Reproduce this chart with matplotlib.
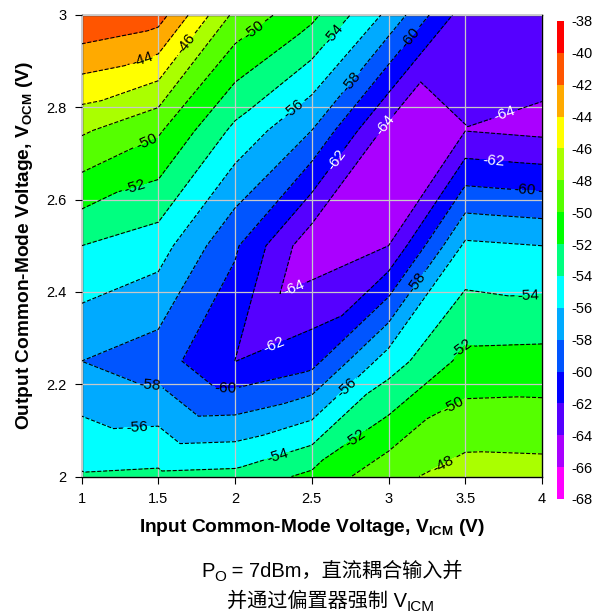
import numpy as np
import matplotlib
matplotlib.use('Agg')
import matplotlib.pyplot as plt
import matplotlib.tri as mtri
from matplotlib.colors import ListedColormap, BoundaryNorm

plt.rcParams['font.family'] = ['Liberation Sans', 'Noto Sans CJK SC']
plt.rcParams['mathtext.fontset'] = 'custom'
plt.rcParams['mathtext.rm'] = 'Liberation Sans'
plt.rcParams['mathtext.bf'] = 'Liberation Sans:bold'
plt.rcParams['axes.unicode_minus'] = False

# ---- data (grid nodes) ----
x_vals = [1.0, 1.5, 2.0, 2.5, 3.0, 3.5, 4.0]
y_vals = [2.0, 2.25, 2.5, 2.75, 3.0]
row_y200 = [-53.8, -53.6, -53.4, -51.5, -48.6, -47.1, -47.2]
row_y225 = [-58.0, -59.1, -62.02, -60.7, -55.0, -51.4, -51.3]
row_y250 = [-54.0, -55.1, -59.7, -65.4, -64.0, -55.6, -56.0]
row_y275 = [-47.7, -49.7, -54.5, -58.0, -64.65, -64.05, -64.5]
row_y300 = [-40.1, -41.1, -48.5, -51.5, -56.5, -63.1, -62.5]

levels = list(range(-68, -37, 2))
band_colors = ['#FF00FF', '#AA00FF', '#5500FF', '#0000FF', '#0055FF', '#00AAFF',
               '#00FFFF', '#00FF80', '#00FF00', '#55FF00', '#AAFF00', '#FFFF00',
               '#FFAA00', '#FF5500', '#FF0000']

x_ticks = [1, 1.5, 2, 2.5, 3, 3.5, 4]
y_ticks = [2, 2.2, 2.4, 2.6, 2.8, 3]

# contour label placements (x, y)
label_spots = [
    (1.392, 2.910), (1.674, 2.939), (2.141, 2.960), (2.641, 2.960),
    (3.151, 2.949), (2.760, 2.855), (2.369, 2.801), (2.966, 2.765),
    (3.759, 2.783), (2.651, 2.689), (3.683, 2.686), (3.889, 2.621),
    (1.446, 2.711), (1.360, 2.617), (2.380, 2.411), (2.250, 2.289),
    (3.184, 2.419), (3.911, 2.400), (3.466, 2.281), (1.446, 2.202),
    (1.935, 2.195), (2.738, 2.187), (3.400, 2.169), (1.360, 2.108),
    (2.782, 2.083), (2.270, 2.050), (3.335, 2.039),
]

# ---- build triangulation (diagonals lower-left -> upper-right) ----
nx, ny = len(x_vals), len(y_vals)
X, Y = np.meshgrid(x_vals, y_vals)
Z = np.array([row_y200, row_y225, row_y250, row_y275, row_y300])
tris = []
for j in range(ny - 1):
    for i in range(nx - 1):
        ll = j * nx + i
        lr = ll + 1
        ul = ll + nx
        ur = ul + 1
        tris.append([ll, lr, ur])
        tris.append([ll, ur, ul])
triang = mtri.Triangulation(X.ravel(), Y.ravel(), np.array(tris))

cmap = ListedColormap(band_colors)
norm = BoundaryNorm(levels, cmap.N)

W, H = 603, 615
fig = plt.figure(figsize=(W / 100, H / 100), dpi=100)
ax = fig.add_axes([81.5 / W, (H - 476.5) / H, 460.5 / W, 461.5 / H])

cf = ax.tricontourf(triang, Z.ravel(), levels=levels, cmap=cmap, norm=norm)
ax.set_xlim(1, 4)
ax.set_ylim(2, 3)
ax.set_xticks(x_ticks)
ax.set_yticks(y_ticks)
ax.set_xticklabels(['%g' % v for v in x_ticks])
ax.set_yticklabels(['%g' % v for v in y_ticks])
ax.grid(True, color='#C8C8C8', linewidth=0.9, zorder=2)
ax.set_axisbelow(False)

cs = ax.tricontour(triang, Z.ravel(), levels=levels, colors='k', linewidths=0.8, zorder=3)
texts = ax.clabel(cs, manual=label_spots, inline=True, inline_spacing=3,
                  fontsize=11, colors='k', fmt='%d')
for t in texts:
    if t.get_text() in ('-62', '-64', '-66'):
        t.set_color('white')

ax.tick_params(direction='out', length=5, width=0.8, labelsize=10.5, pad=6)
for sp in ax.spines.values():
    sp.set_linewidth(1.0)

ax.set_xlabel('Input Common-Mode Voltage, V$_{\\mathbf{ICM}}$ (V)', fontsize=13.8,
              fontweight='bold', labelpad=8)
ax.set_ylabel('Output Common-Mode Voltage, V$_{\\mathbf{OCM}}$ (V)', fontsize=13.8,
              fontweight='bold', labelpad=8)

# colorbar
cax = fig.add_axes([557 / W, (H - 499) / H, 7 / W, 478 / H])
cb = fig.colorbar(cf, cax=cax, ticks=levels)
cb.outline.set_visible(False)
cb.ax.tick_params(length=0, labelsize=10.5, pad=5)
cb.ax.set_yticklabels(['%d' % v for v in levels])


# caption lines composed of pieces (text, fontsize, baseline drop in px)
def rich_line(center_px, baseline_px, pieces):
    renderer = fig.canvas.get_renderer()
    objs = []
    total = 0.0
    for txt, fs, drop in pieces:
        t = fig.text(0, 0, txt, fontsize=fs, ha='left', va='baseline')
        w = t.get_window_extent(renderer).width
        objs.append((t, drop, w))
        total += w
    x = center_px - total / 2
    for t, drop, w in objs:
        t.set_position((x / W, (H - baseline_px - drop) / H))
        x += w


rich_line(332, 577, [('P', 14.5, 0), ('O', 11, 4), (' = 7dBm，直流耦合输入并', 14.5, 0)])
rich_line(331, 607, [('并通过偏置器强制 V', 14.5, 0), ('ICM', 11, 4)])

fig.savefig('out.png', dpi=100)
